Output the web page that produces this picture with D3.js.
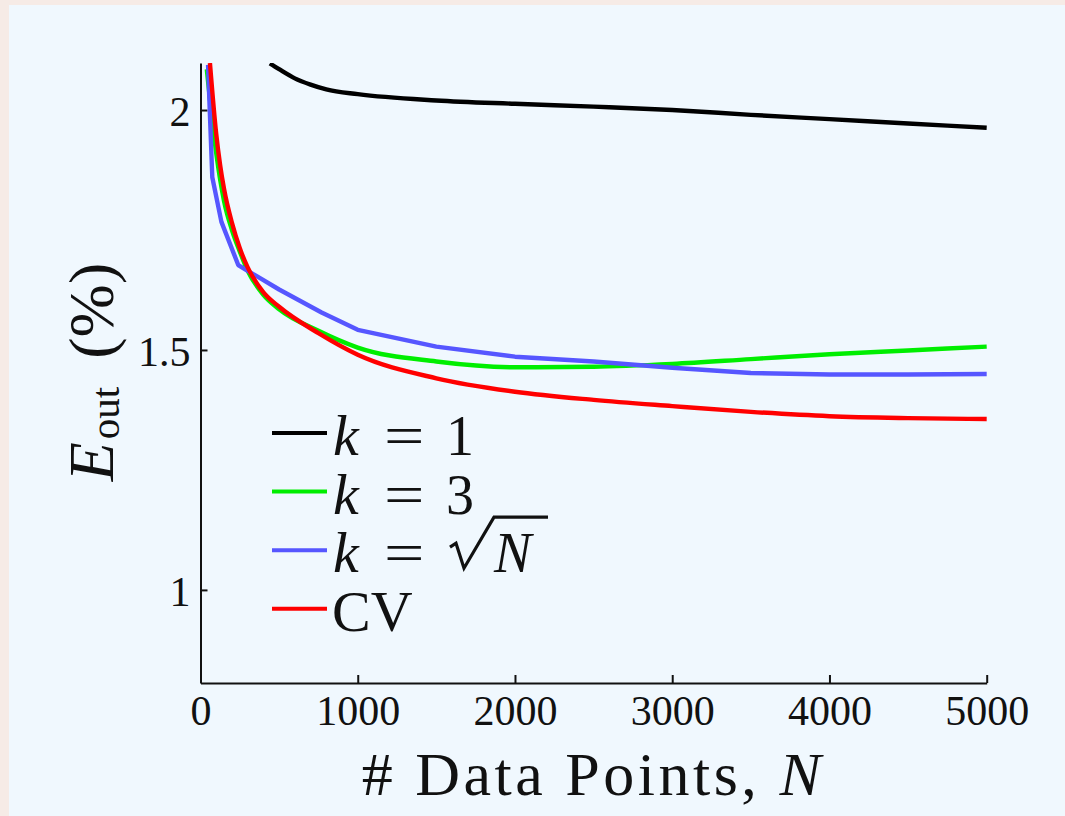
<!DOCTYPE html>
<html>
<head>
<meta charset="utf-8">
<script src="https://cdn.jsdelivr.net/npm/d3@7"></script>
<style>
  html, body { margin: 0; padding: 0; }
  body { width: 1065px; height: 816px; overflow: hidden; background: #f6ebe6; }
  svg { display: block; }
  text { font-family: "Liberation Serif", "Times New Roman", serif; fill: #111; }
</style>
</head>
<body>
<div id="chart"></div>
<script>
// N values and E_out (%) per series
const nK1 = [441, 500, 600, 700, 800, 1000, 1500, 2000, 2500, 3000, 3500, 4000, 4500, 5000];
const eK1 = [2.097, 2.085, 2.066, 2.053, 2.043, 2.033, 2.02, 2.013, 2.007, 2.0, 1.99, 1.981, 1.972, 1.963];

const nK3 = [40, 100, 150, 200, 250, 300, 400, 500, 750, 1000, 1500, 2000, 2500, 3000, 3500, 4000, 4500, 5000];
const eK3 = [2.085, 1.91, 1.81, 1.75, 1.705, 1.665, 1.615, 1.585, 1.54, 1.505, 1.476, 1.464, 1.465, 1.471, 1.481, 1.491, 1.499, 1.507];

const nSqrt = [48, 75, 133, 240, 300, 500, 770, 1000, 1500, 2000, 2500, 3000, 3500, 4000, 4500, 5000];
const eSqrt = [2.094, 1.86, 1.767, 1.677, 1.665, 1.626, 1.578, 1.542, 1.507, 1.486, 1.476, 1.463, 1.452, 1.449, 1.449, 1.45];

const nCV = [60, 100, 125, 150, 200, 250, 300, 400, 500, 750, 1000, 1500, 2000, 2500, 3000, 3500, 4000, 4500, 5000];
const eCV = [2.098, 1.95, 1.885, 1.835, 1.765, 1.712, 1.672, 1.62, 1.59, 1.535, 1.49, 1.441, 1.413, 1.396, 1.383, 1.371, 1.362, 1.358, 1.356];

const xTicks = [0, 1000, 2000, 3000, 4000, 5000];
const yTicks = [1, 1.5, 2];

const series = [
  { key: 'k1', n: nK1, e: eK1, color: '#000000', curve: d3.curveMonotoneX },
  { key: 'k3', n: nK3, e: eK3, color: '#00ee00', curve: d3.curveMonotoneX },
  { key: 'sqrt', n: nSqrt, e: eSqrt, color: '#5656ff', curve: d3.curveLinear },
  { key: 'cv', n: nCV, e: eCV, color: '#ff0000', curve: d3.curveMonotoneX },
];

const width = 1065;
const height = 816;
const plot = { left: 200.5, right: 986.7, top: 63, bottom: 683 };

const svg = d3.select('#chart')
  .append('svg')
  .attr('width', width)
  .attr('height', height);

svg.append('rect')
  .attr('x', 9)
  .attr('y', 5)
  .attr('width', width - 9)
  .attr('height', height - 5)
  .attr('fill', '#f0f8fe');

const x = d3.scaleLinear().domain([0, 5000]).range([plot.left, plot.right]);
const y = d3.scaleLinear().domain([0.806, 2.098]).range([plot.bottom, plot.top]);

svg.append('clipPath')
  .attr('id', 'plot-clip')
  .append('rect')
  .attr('x', plot.left)
  .attr('y', plot.top)
  .attr('width', plot.right - plot.left + 4)
  .attr('height', plot.bottom - plot.top);

// axes
const xAxis = svg.append('g')
  .attr('transform', `translate(0,${plot.bottom})`)
  .call(d3.axisBottom(x)
    .tickValues(xTicks)
    .tickFormat(d3.format('d'))
    .tickSizeInner(-8)
    .tickSizeOuter(0)
    .tickPadding(12));

const yAxis = svg.append('g')
  .attr('transform', `translate(${plot.left},0)`)
  .call(d3.axisLeft(y)
    .tickValues(yTicks)
    .tickFormat(d => String(d))
    .tickSizeInner(-7)
    .tickSizeOuter(0)
    .tickPadding(10));

[xAxis, yAxis].forEach(a => {
  a.select('.domain').attr('stroke', '#111').attr('stroke-width', 2);
  a.selectAll('.tick line').attr('stroke', '#111').attr('stroke-width', 2);
  a.selectAll('.tick text')
    .attr('font-family', '"Liberation Serif", serif')
    .attr('font-size', 42)
    .attr('fill', '#111');
});
yAxis.selectAll('.tick text').attr('dy', '0.36em');

// lines
const line = d3.line()
  .x(d => x(d[0]))
  .y(d => y(d[1]));

svg.append('g')
  .attr('clip-path', 'url(#plot-clip)')
  .selectAll('path')
  .data(series)
  .join('path')
  .attr('fill', 'none')
  .attr('stroke', d => d.color)
  .attr('stroke-width', 4.4)
  .attr('stroke-linejoin', 'round')
  .attr('d', d => line.curve(d.curve)(d.n.map((n, i) => [n, d.e[i]])));

// axis titles
svg.append('text')
  .attr('x', 593)
  .attr('y', 795)
  .attr('text-anchor', 'middle')
  .attr('font-size', 62)
  .attr('letter-spacing', 3.5)
  .call(t => {
    t.append('tspan').text('# Data Points, ');
    t.append('tspan').attr('font-style', 'italic').text('N');
  });

const yTitle = svg.append('text')
  .attr('transform', 'translate(113,372) rotate(-90)')
  .attr('text-anchor', 'middle')
  .attr('font-size', 64);
yTitle.append('tspan').attr('font-style', 'italic').text('E');
yTitle.append('tspan').attr('font-size', 41).attr('dx', 3).attr('dy', 6).text('out');
yTitle.append('tspan').attr('dx', 28).attr('dy', -6).text('(%)');

// legend
const legendRows = [
  { color: '#000000', value: '1' },
  { color: '#00ee00', value: '3' },
  { color: '#5656ff', value: 'sqrt' },
  { color: '#ff0000', value: 'CV' },
];

const legend = svg.append('g').attr('transform', 'translate(272,433)');
const row = legend.selectAll('g')
  .data(legendRows)
  .join('g')
  .attr('transform', (d, i) => `translate(0,${i * 58.6})`);

row.append('line')
  .attr('x1', 0).attr('x2', 55)
  .attr('stroke', d => d.color)
  .attr('stroke-width', 4);

row.each(function (d) {
  const g = d3.select(this);
  if (d.value === 'CV') {
    g.append('text').attr('x', 60).attr('y', 22).attr('font-size', 58).text('CV');
    return;
  }
  g.append('text').attr('x', 61).attr('y', 22).attr('font-size', 58)
    .attr('font-style', 'italic').text('k');
  g.append('text')
    .attr('transform', 'translate(112,22) scale(1.28,1)')
    .attr('font-size', 56)
    .text('=');
  if (d.value === 'sqrt') {
    g.append('path')
      .attr('d', 'M178,-3 L184,-7 L192,18 L222,-33 L276,-33')
      .attr('fill', 'none')
      .attr('stroke', '#111')
      .attr('stroke-width', 3.2)
      .attr('stroke-linejoin', 'miter');
    g.append('text').attr('x', 222).attr('y', 22).attr('font-size', 56)
      .attr('font-style', 'italic').text('N');
  } else {
    g.append('text').attr('x', 174).attr('y', 22).attr('font-size', 56).text(d.value);
  }
});
</script>
</body>
</html>
